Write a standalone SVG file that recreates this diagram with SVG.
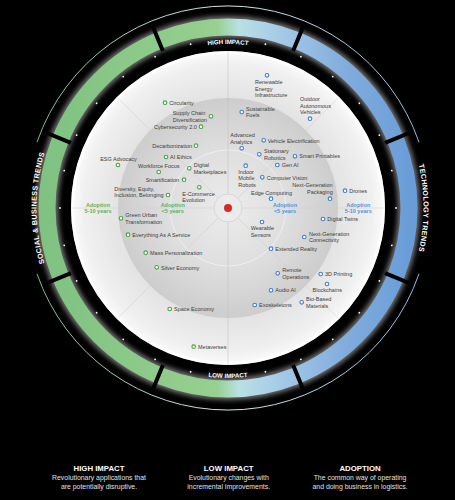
<svg xmlns="http://www.w3.org/2000/svg" width="455" height="500" viewBox="0 0 455 500">
<style>
.l{font-family:"Liberation Sans",Arial,sans-serif;font-size:5.5px;fill:#404040}
.m{text-anchor:middle}
.e{text-anchor:end}
.g{fill:#fff;stroke:#45a545;stroke-width:1.1}
.b{fill:#fff;stroke:#3c7ed2;stroke-width:1.1}
.ad{font-family:"Liberation Sans",Arial,sans-serif;font-size:5.5px;font-weight:bold;text-anchor:middle}
.adg{fill:#5cb35c}
.adb{fill:#5a90d8}
.ring{font-family:"Liberation Sans",Arial,sans-serif;font-weight:bold;fill:#fff}
.ft{font-family:"Liberation Sans",Arial,sans-serif;font-size:7.8px;font-weight:bold;fill:#fff;text-anchor:middle}
.fb{font-family:"Liberation Sans",Arial,sans-serif;font-size:6.9px;fill:#e2e2e2;text-anchor:middle}
.dot{fill:#fff}
.div{stroke:#000;stroke-width:4}
.rad{stroke:#cdcdcd;stroke-width:0.5}
</style>
<defs>
<linearGradient id="band" gradientUnits="userSpaceOnUse" x1="47" y1="0" x2="409" y2="0">
<stop offset="0" stop-color="#7fc281"/>
<stop offset="0.47" stop-color="#97d090"/>
<stop offset="0.53" stop-color="#b9e0e4"/>
<stop offset="0.64" stop-color="#a6cbe7"/>
<stop offset="0.82" stop-color="#82addd"/>
<stop offset="1" stop-color="#6a9dd8"/>
</linearGradient>
<linearGradient id="thin" gradientUnits="userSpaceOnUse" x1="26" y1="0" x2="430" y2="0">
<stop offset="0" stop-color="#7fb583"/>
<stop offset="0.5" stop-color="#d2ece8"/>
<stop offset="1" stop-color="#8fb6df"/>
</linearGradient>
<radialGradient id="disk" cx="228" cy="208" r="157" gradientUnits="userSpaceOnUse">
<stop offset="0" stop-color="#dedede"/>
<stop offset="0.7" stop-color="#e3e3e3"/>
<stop offset="0.92" stop-color="#f0f0f0"/>
<stop offset="1" stop-color="#fbfbfb"/>
</radialGradient>
<radialGradient id="inner" cx="228" cy="208" r="110" gradientUnits="userSpaceOnUse">
<stop offset="0" stop-color="#ececec"/>
<stop offset="0.55" stop-color="#dedede"/>
<stop offset="1" stop-color="#cdcdcd"/>
</radialGradient>
<filter id="glow" x="-20%" y="-20%" width="140%" height="140%">
<feGaussianBlur stdDeviation="2.5"/>
</filter>
<path id="pTop" d="M146 66 A164 164 0 0 1 310 66"/>
<path id="pBot" d="M143 355.2 A170 170 0 0 0 313 355.2"/>
<path id="pLeft" d="M81.3 331.1 A191.5 191.5 0 0 1 81.3 84.9"/>
<path id="pRight" d="M377.8 82.3 A195.5 195.5 0 0 1 377.8 333.7"/>
</defs>
<rect x="0" y="0" width="455" height="500" fill="#000"/>

<g id="outer-ring">
<path d="M37 142.2 A202 202 0 0 1 419 142.2" fill="none" stroke="url(#thin)" stroke-width="1"/>
<path d="M419 273.8 A202 202 0 0 1 37 273.8" fill="none" stroke="url(#thin)" stroke-width="1"/>
<circle cx="228" cy="208" r="181" fill="none" stroke="#ffffff" stroke-opacity="0.45" stroke-width="22" filter="url(#glow)"/>
<circle cx="228" cy="208" r="181" fill="none" stroke="url(#band)" stroke-width="17"/>
<g class="div">
<line x1="228" y1="38" x2="228" y2="12" transform="rotate(22.5 228 208)"/>
<line x1="228" y1="38" x2="228" y2="12" transform="rotate(67.5 228 208)"/>
<line x1="228" y1="38" x2="228" y2="12" transform="rotate(112.5 228 208)"/>
<line x1="228" y1="38" x2="228" y2="12" transform="rotate(157.5 228 208)"/>
<line x1="228" y1="38" x2="228" y2="12" transform="rotate(202.5 228 208)"/>
<line x1="228" y1="38" x2="228" y2="12" transform="rotate(247.5 228 208)"/>
<line x1="228" y1="38" x2="228" y2="12" transform="rotate(292.5 228 208)"/>
<line x1="228" y1="38" x2="228" y2="12" transform="rotate(337.5 228 208)"/>
</g>
<g class="dot">
<circle cx="228" cy="40" r="0.9" transform="rotate(12.857 228 208)"/>
<circle cx="228" cy="40" r="0.9" transform="rotate(25.714 228 208)"/>
<circle cx="228" cy="40" r="0.9" transform="rotate(38.571 228 208)"/>
<circle cx="228" cy="40" r="0.9" transform="rotate(51.429 228 208)"/>
<circle cx="228" cy="40" r="0.9" transform="rotate(64.286 228 208)"/>
<circle cx="228" cy="40" r="0.9" transform="rotate(77.143 228 208)"/>
<circle cx="228" cy="40" r="0.9" transform="rotate(90 228 208)"/>
<circle cx="228" cy="40" r="0.9" transform="rotate(102.857 228 208)"/>
<circle cx="228" cy="40" r="0.9" transform="rotate(115.714 228 208)"/>
<circle cx="228" cy="40" r="0.9" transform="rotate(128.571 228 208)"/>
<circle cx="228" cy="40" r="0.9" transform="rotate(141.429 228 208)"/>
<circle cx="228" cy="40" r="0.9" transform="rotate(154.286 228 208)"/>
<circle cx="228" cy="40" r="0.9" transform="rotate(167.143 228 208)"/>
<circle cx="228" cy="40" r="0.9" transform="rotate(192.857 228 208)"/>
<circle cx="228" cy="40" r="0.9" transform="rotate(205.714 228 208)"/>
<circle cx="228" cy="40" r="0.9" transform="rotate(218.571 228 208)"/>
<circle cx="228" cy="40" r="0.9" transform="rotate(231.429 228 208)"/>
<circle cx="228" cy="40" r="0.9" transform="rotate(244.286 228 208)"/>
<circle cx="228" cy="40" r="0.9" transform="rotate(257.143 228 208)"/>
<circle cx="228" cy="40" r="0.9" transform="rotate(270 228 208)"/>
<circle cx="228" cy="40" r="0.9" transform="rotate(282.857 228 208)"/>
<circle cx="228" cy="40" r="0.9" transform="rotate(295.714 228 208)"/>
<circle cx="228" cy="40" r="0.9" transform="rotate(308.571 228 208)"/>
<circle cx="228" cy="40" r="0.9" transform="rotate(321.429 228 208)"/>
<circle cx="228" cy="40" r="0.9" transform="rotate(334.286 228 208)"/>
<circle cx="228" cy="40" r="0.9" transform="rotate(347.143 228 208)"/>
</g>
<text class="ring" font-size="6.2"><textPath href="#pTop" startOffset="50%" text-anchor="middle">HIGH IMPACT</textPath></text>
<text class="ring" font-size="6.2"><textPath href="#pBot" startOffset="50%" text-anchor="middle">LOW IMPACT</textPath></text>
<text class="ring" font-size="7.2" letter-spacing="0.3"><textPath href="#pLeft" startOffset="50%" text-anchor="middle">SOCIAL &amp; BUSINESS TRENDS</textPath></text>
<text class="ring" font-size="7.2" letter-spacing="0.3"><textPath href="#pRight" startOffset="50%" text-anchor="middle">TECHNOLOGY TRENDS</textPath></text>
</g>

<g id="disk">
<circle cx="228" cy="208" r="157" fill="url(#disk)"/>
<circle cx="228" cy="208" r="155.5" fill="none" stroke="#ffffff" stroke-width="3" stroke-opacity="0.8"/>
<circle cx="228" cy="208" r="110" fill="url(#inner)"/>
<circle cx="228" cy="208" r="58" fill="none" stroke="#f2f2f2" stroke-width="0.8"/>
<g class="rad">
<line x1="228" y1="51" x2="228" y2="365" stroke="#bdbdbd"/>
<line x1="71" y1="208" x2="385" y2="208"/>
<line x1="117" y1="97" x2="339" y2="319"/>
<line x1="339" y1="97" x2="117" y2="319"/>
</g>
<circle cx="228" cy="208" r="14" fill="#ebebeb" stroke="#d0d0d0" stroke-width="0.8"/>
<circle cx="228" cy="208" r="4" fill="#d42a2a"/>
</g>

<g id="n-circularity"><circle class="g" cx="165" cy="102.7" r="1.8"/><text class="l" x="169.3" y="105">Circularity</text></g>
<g id="n-supply-chain"><circle class="g" cx="211" cy="116.3" r="1.8"/><text class="l"><tspan x="172.7" y="115.3">Supply Chain</tspan><tspan x="172.7" y="121.7">Diversification</tspan></text></g>
<g id="n-cybersecurity"><circle class="g" cx="201" cy="126.7" r="1.8"/><text class="l" x="154" y="129">Cybersecurity 2.0</text></g>
<g id="n-decarbonization"><circle class="g" cx="196" cy="145.7" r="1.8"/><text class="l" x="152.3" y="147.7">Decarbonization</text></g>
<g id="n-ai-ethics"><circle class="g" cx="166" cy="157" r="1.8"/><text class="l" x="170" y="159.3">AI Ethics</text></g>
<g id="n-esg"><circle class="g" cx="118" cy="165" r="1.8"/><text class="l m" x="118.5" y="161">ESG Advocacy</text></g>
<g id="n-workforce"><circle class="g" cx="158.7" cy="172" r="1.8"/><text class="l m" x="158.8" y="168">Workforce Focus</text></g>
<g id="n-digital-marketplaces"><circle class="g" cx="189.3" cy="168.3" r="1.8"/><text class="l"><tspan x="193.7" y="167.3">Digital</tspan><tspan x="193.7" y="173.7">Marketplaces</tspan></text></g>
<g id="n-smartification"><circle class="g" cx="184" cy="179.7" r="1.8"/><text class="l" x="145.7" y="182">Smartification</text></g>
<g id="n-dei"><circle class="g" cx="168" cy="195" r="1.8"/><text class="l"><tspan x="114.3" y="191">Diversity, Equity,</tspan><tspan x="114.3" y="197">Inclusion, Belonging</tspan></text></g>
<g id="n-ecommerce"><circle class="g" cx="199.3" cy="187.3" r="1.8"/><text class="l"><tspan x="182.3" y="195.7">E-Commerce</tspan><tspan x="182.3" y="201.7">Evolution</tspan></text></g>
<g id="adoption-green-far"><text class="ad adg"><tspan x="98" y="207.3">Adoption</tspan><tspan x="98" y="213.3">5-10 years</tspan></text></g>
<g id="adoption-green-near"><text class="ad adg"><tspan x="172.7" y="207.3">Adoption</tspan><tspan x="172.7" y="213.3">&lt;5 years</tspan></text></g>
<g id="n-green-urban"><circle class="g" cx="121" cy="218.3" r="1.8"/><text class="l"><tspan x="125.3" y="217.3">Green Urban</tspan><tspan x="125.3" y="223.7">Transformation</tspan></text></g>
<g id="n-eaas"><circle class="g" cx="128" cy="234.7" r="1.8"/><text class="l" x="132.3" y="237">Everything As A Service</text></g>
<g id="n-mass-personalization"><circle class="g" cx="145.7" cy="252.7" r="1.8"/><text class="l" x="150" y="255">Mass Personalization</text></g>
<g id="n-silver-economy"><circle class="g" cx="156.7" cy="267.3" r="1.8"/><text class="l" x="161" y="269.7">Silver Economy</text></g>
<g id="n-space-economy"><circle class="g" cx="169.7" cy="309" r="1.8"/><text class="l" x="174" y="311.3">Space Economy</text></g>
<g id="n-metaverses"><circle class="g" cx="193.7" cy="346.7" r="1.8"/><text class="l" x="198" y="349">Metaverses</text></g>

<g id="n-renewable"><circle class="b" cx="267" cy="75.3" r="1.8"/><text class="l"><tspan x="255" y="84.3">Renewable</tspan><tspan x="255" y="90.7">Energy</tspan><tspan x="255" y="97">Infrastructure</tspan></text></g>
<g id="n-outdoor-av"><circle class="b" cx="310" cy="118.7" r="1.8"/><text class="l"><tspan x="300" y="101.3">Outdoor</tspan><tspan x="300" y="107.7">Autonomous</tspan><tspan x="300" y="114">Vehicles</tspan></text></g>
<g id="n-sustainable-fuels"><circle class="b" cx="241.7" cy="112" r="1.8"/><text class="l"><tspan x="246" y="111">Sustainable</tspan><tspan x="246" y="117.3">Fuels</tspan></text></g>
<g id="n-advanced-analytics"><circle class="b" cx="241.7" cy="148.3" r="1.8"/><text class="l"><tspan x="230.3" y="137.3">Advanced</tspan><tspan x="230.3" y="143.7">Analytics</tspan></text></g>
<g id="n-vehicle-electrification"><circle class="b" cx="263.7" cy="140.3" r="1.8"/><text class="l" x="267.7" y="142.7">Vehicle Electrification</text></g>
<g id="n-stationary-robotics"><circle class="b" cx="259.3" cy="154.3" r="1.8"/><text class="l"><tspan x="264" y="153.3">Stationary</tspan><tspan x="264" y="159.7">Robotics</tspan></text></g>
<g id="n-smart-printables"><circle class="b" cx="295" cy="156.3" r="1.8"/><text class="l" x="299.3" y="158.3">Smart Printables</text></g>
<g id="n-gen-ai"><circle class="b" cx="277.3" cy="165" r="1.8"/><text class="l" x="281.7" y="167">Gen AI</text></g>
<g id="n-indoor-robots"><circle class="b" cx="245.7" cy="165.7" r="1.8"/><text class="l"><tspan x="238.3" y="174">Indoor</tspan><tspan x="238.3" y="180.3">Mobile</tspan><tspan x="238.3" y="186.7">Robots</tspan></text></g>
<g id="n-computer-vision"><circle class="b" cx="262.3" cy="177.3" r="1.8"/><text class="l" x="266.7" y="179.7">Computer Vision</text></g>
<g id="n-nextgen-packaging"><circle class="b" cx="330" cy="198.7" r="1.8"/><text class="l e"><tspan x="332.7" y="187.3">Next-Generation</tspan><tspan x="332.7" y="193.7">Packaging</tspan></text></g>
<g id="n-drones"><circle class="b" cx="345" cy="190.7" r="1.8"/><text class="l" x="349.3" y="193">Drones</text></g>
<g id="n-edge-computing"><circle class="b" cx="271" cy="198.7" r="1.8"/><text class="l m" x="271.5" y="194.7">Edge Computing</text></g>
<g id="adoption-blue-near"><text class="ad adb"><tspan x="285" y="207.3">Adoption</tspan><tspan x="285" y="213.3">&lt;5 years</tspan></text></g>
<g id="adoption-blue-far"><text class="ad adb"><tspan x="358.3" y="207.3">Adoption</tspan><tspan x="358.3" y="213.3">5-10 years</tspan></text></g>
<g id="n-digital-twins"><circle class="b" cx="323" cy="219" r="1.8"/><text class="l" x="327.3" y="221.3">Digital Twins</text></g>
<g id="n-wearable-sensors"><circle class="b" cx="262" cy="222" r="1.8"/><text class="l"><tspan x="250.7" y="230.3">Wearable</tspan><tspan x="250.7" y="236.7">Sensors</tspan></text></g>
<g id="n-nextgen-connectivity"><circle class="b" cx="304.3" cy="237" r="1.8"/><text class="l"><tspan x="309" y="236">Next-Generation</tspan><tspan x="309" y="242.3">Connectivity</tspan></text></g>
<g id="n-extended-reality"><circle class="b" cx="271" cy="248.7" r="1.8"/><text class="l" x="275.3" y="251">Extended Reality</text></g>
<g id="n-remote-operations"><circle class="b" cx="277.7" cy="273.3" r="1.8"/><text class="l"><tspan x="282.3" y="272.3">Remote</tspan><tspan x="282.3" y="278.7">Operations</tspan></text></g>
<g id="n-3d-printing"><circle class="b" cx="320.7" cy="274" r="1.8"/><text class="l" x="325" y="276.3">3D Printing</text></g>
<g id="n-blockchains"><circle class="b" cx="327" cy="284" r="1.8"/><text class="l m" x="327.3" y="292">Blockchains</text></g>
<g id="n-audio-ai"><circle class="b" cx="271" cy="290.3" r="1.8"/><text class="l" x="275.3" y="292.3">Audio AI</text></g>
<g id="n-bio-based"><circle class="b" cx="301.7" cy="302.3" r="1.8"/><text class="l"><tspan x="306" y="301.3">Bio-Based</tspan><tspan x="306" y="307.7">Materials</tspan></text></g>
<g id="n-exoskeletons"><circle class="b" cx="254.7" cy="305" r="1.8"/><text class="l" x="259" y="307.3">Exoskeletons</text></g>

<g id="legend">
<text class="ft" x="99" y="471">HIGH IMPACT</text>
<text class="fb"><tspan x="99" y="480.3">Revolutionary applications that</tspan><tspan x="99" y="489.3">are potentially disruptive.</tspan></text>
<text class="ft" x="228.7" y="471">LOW IMPACT</text>
<text class="fb"><tspan x="228.7" y="480.3">Evolutionary changes with</tspan><tspan x="228.7" y="489.3">incremental improvements.</tspan></text>
<text class="ft" x="360" y="471">ADOPTION</text>
<text class="fb"><tspan x="360" y="480.3">The common way of operating</tspan><tspan x="360" y="489.3">and doing business in logistics.</tspan></text>
</g>
</svg>
